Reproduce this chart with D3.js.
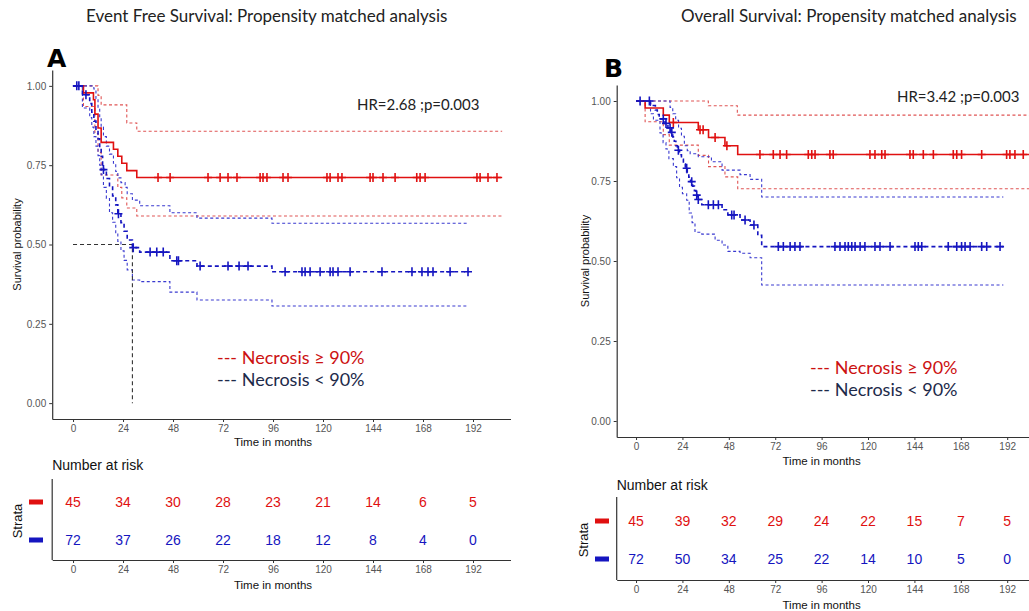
<!DOCTYPE html>
<html>
<head>
<meta charset="utf-8">
<script src="https://cdn.jsdelivr.net/npm/d3@7"></script>
<style>
  body { margin: 0; background: #fff; }
  svg { display: block; }
</style>
</head>
<body>
<svg id="fig" width="1029" height="611"></svg>
<script>
// ---------- data ----------
var timeTicks = [0, 24, 48, 72, 96, 120, 144, 168, 192];
var survTicks = [0, 0.25, 0.5, 0.75, 1];
var groupNames = ["Necrosis \u2265 90%", "Necrosis < 90%"];

// A: event free survival, necrosis >= 90%
var efsHighMain = [[0,1],[5,0.978],[9.8,0.956],[10.5,0.911],[12,0.867],[13.5,0.822],[19.4,0.8],[21.5,0.778],[23.4,0.756],[25.8,0.733],[30.6,0.711]];
var efsHighUpper = [[0,1],[12,0.97],[13.5,0.94],[25.8,0.883],[30.6,0.857]];
var efsHighLower = [[0,1],[5,0.935],[10.5,0.85],[12,0.79],[13.5,0.719],[21.5,0.68],[23.4,0.647],[25.8,0.615],[30.6,0.59]];
var efsHighCensor = [40.8,46.6,64.8,70.6,74.4,78.7,89.8,91.2,93.1,100.8,103.2,121.9,123.4,127.2,129.1,142.6,144,148.8,154.6,165,166.6,169,193.9,195.4,199.2,203.5];
var efsHighEnd = 206;

// A: event free survival, necrosis < 90%
var efsLowMain = [[0,1],[4.5,0.972],[8,0.944],[9,0.917],[10,0.889],[11,0.861],[12,0.833],[12.8,0.806],[13.5,0.778],[14.2,0.75],[14.6,0.736],[16,0.708],[17.5,0.681],[19,0.653],[20.5,0.625],[21.5,0.597],[23,0.569],[24.5,0.542],[26,0.514],[28.5,0.49],[32,0.476],[46.5,0.449],[59.5,0.432],[95.5,0.414]];
var efsLowUpper = [[0,1],[10,0.99],[11,0.96],[12,0.93],[12.8,0.9],[13.5,0.87],[14.6,0.84],[16,0.81],[17.5,0.785],[19.4,0.756],[20.5,0.73],[21.5,0.71],[23,0.695],[25,0.68],[26,0.66],[28.5,0.64],[32,0.622],[46.5,0.6],[59.5,0.583],[95.5,0.567]];
var efsLowLower = [[0,1],[4.5,0.93],[8,0.9],[9,0.87],[10,0.84],[11,0.81],[12,0.78],[12.8,0.75],[13.5,0.72],[14.6,0.68],[16,0.645],[17.5,0.6],[19,0.57],[20.5,0.535],[21.5,0.51],[23,0.48],[24.5,0.45],[26,0.42],[28.5,0.388],[32,0.383],[46.5,0.35],[59.5,0.325],[95.5,0.306]];
var efsLowCensor = [1.8,2.8,6.2,14.6,21.8,28.9,37,40.2,43.3,49.8,50.6,61,74.4,79.7,84,101.8,109.9,111.4,113.8,118.6,123.4,124.8,127.2,133,148.3,162.7,167.5,170.4,172.8,181,189.6];
var efsLowEnd = 190;
var efsMedian = 28.5;

// B: overall survival, necrosis >= 90%
var osHighMain = [[0,1],[4.7,0.978],[14.1,0.956],[17.2,0.933],[32.2,0.91],[37.5,0.886],[46,0.86],[52.6,0.833]];
var osHighUpper = [[0,1],[37.4,0.985],[52.4,0.956]];
var osHighLower = [[0,1],[4.7,0.935],[14.1,0.895],[17.2,0.862],[32.2,0.83],[37.5,0.795],[46,0.763],[52.6,0.726]];
var osHighCensor = [19.3,33.1,34.7,40.9,47,64.1,71,74.5,77.9,89.1,90.9,92.6,100.3,102,121,123.6,127.1,128.8,141.7,143.4,148.6,153.8,164.1,165.9,168.4,178.8,191.7,193.4,196,200.3];
var osHighEnd = 206;

// B: overall survival, necrosis < 90%
var osLowMain = [[0,1],[7.5,0.986],[10,0.972],[11,0.958],[12,0.944],[15,0.93],[16.5,0.916],[18,0.902],[19,0.888],[19.8,0.874],[20.6,0.86],[21.4,0.846],[22.5,0.832],[23.5,0.818],[24.5,0.804],[25.5,0.79],[26.5,0.776],[27.3,0.762],[28.2,0.748],[29.3,0.734],[30.2,0.72],[31,0.706],[31.8,0.692],[34,0.676],[44.5,0.66],[47.5,0.644],[53.8,0.628],[59,0.6125],[63,0.58],[65,0.545]];
var osLowUpper = [[0,1],[17.6,0.98],[19,0.96],[20.5,0.94],[22,0.915],[23.5,0.89],[25,0.86],[26.5,0.845],[28,0.835],[32.2,0.826],[39,0.81],[44.5,0.784],[53.8,0.77],[59,0.755],[65,0.70]];
var osLowLower = [[0,1],[7.5,0.96],[9,0.94],[12.4,0.9],[14,0.87],[15.5,0.85],[17,0.82],[19.3,0.795],[21,0.76],[22.5,0.73],[24,0.71],[26.2,0.69],[27.5,0.65],[29,0.62],[30.5,0.59],[34,0.584],[40.9,0.565],[44.5,0.55],[47.5,0.53],[53.8,0.524],[59,0.51],[65,0.425]];
var osLowCensor = [2.1,6.9,14.1,15.5,17.6,18.5,21.9,26.2,28.8,31.4,32.2,37.4,40,42.6,49.5,50.7,56.4,61,73.6,76.2,79.7,82.2,84.8,102.9,105.5,108.1,109.8,111.6,113.3,115.9,118.4,123.6,126.2,131.4,144.3,146,147.8,161.5,165.9,168.4,170.2,172.8,178.8,181.4,188.3];
var osLowEnd = 190;

// numbers at risk
var efsRiskHigh = [45, 34, 30, 28, 23, 21, 14, 6, 5];
var efsRiskLow = [72, 37, 26, 22, 18, 12, 8, 4, 0];
var osRiskHigh = [45, 39, 32, 29, 24, 22, 15, 7, 5];
var osRiskLow = [72, 50, 34, 25, 22, 14, 10, 5, 0];

// ---------- style ----------
var red = "#e01010", blue = "#1515c0";
var redCI = "#e05555", blueCI = "#3a3ad0";
var tickFont = "'Liberation Sans', Arial, sans-serif";
var noteFont = "Lato, 'Open Sans', sans-serif";

var svg = d3.select("#fig");
svg.append("rect").attr("width", 1029).attr("height", 611).attr("fill", "#fff");

var panels = [
  {
    letter: "A", letterX: 47, letterY: 67,
    title: "Event Free Survival: Propensity matched analysis", titleX: 86,
    hr: "HR=2.68 ;p=0.003", hrX: 357, hrY: 110,
    legendX: 217, legendY: 364,
    xRange: [52.2, 510.5], yRange: [419, 70],
    ylabX: 17, xlabY: 446,
    high: { main: efsHighMain, upper: efsHighUpper, lower: efsHighLower, censor: efsHighCensor, end: efsHighEnd, risk: efsRiskHigh },
    low: { main: efsLowMain, upper: efsLowUpper, lower: efsLowLower, censor: efsLowCensor, end: efsLowEnd, risk: efsRiskLow },
    median: efsMedian,
    tableTitleY: 470, tableTop: 479, tableAxisY: 560, rows: [502, 540],
    strataX: 17, dashX: 29
  },
  {
    letter: "B", letterX: 604, letterY: 77,
    title: "Overall Survival: Propensity matched analysis", titleX: 681,
    hr: "HR=3.42 ;p=0.003", hrX: 897, hrY: 102,
    legendX: 810, legendY: 374,
    xRange: [616.7, 1042], yRange: [437, 85],
    ylabX: 585, xlabY: 465,
    high: { main: osHighMain, upper: osHighUpper, lower: osHighLower, censor: osHighCensor, end: osHighEnd, risk: osRiskHigh },
    low: { main: osLowMain, upper: osLowUpper, lower: osLowLower, censor: osLowCensor, end: osLowEnd, risk: osRiskLow },
    median: null,
    tableTitleY: 490, tableTop: 497, tableAxisY: 580, rows: [521, 559],
    strataX: 583, dashX: 595
  }
];

function styleAxis(sel) {
  sel.select(".domain").attr("stroke", "#333").attr("stroke-width", 1.2);
  sel.selectAll(".tick line").attr("stroke", "#333");
  sel.selectAll(".tick text").attr("fill", "#555").style("font-family", tickFont).style("font-size", "10px");
}

function valueAt(curve, t) {
  var v = curve[0][1];
  curve.forEach(function(d) { if (d[0] <= t) v = d[1]; });
  return v;
}

function drawPanel(p) {
  var x = d3.scaleLinear().domain([-10, 210]).range(p.xRange);
  var y = d3.scaleLinear().domain([-0.05, 1.05]).range(p.yRange);
  var g = svg.append("g");

  var step = d3.line()
    .x(function(d) { return x(d[0]); })
    .y(function(d) { return y(d[1]); })
    .curve(d3.curveStepAfter);

  function withEnd(curve, end) {
    return curve.concat([[end, curve[curve.length - 1][1]]]);
  }

  // title & panel letter
  svg.append("text").attr("x", p.titleX).attr("y", 22)
    .style("font-family", noteFont).style("font-size", "17px").attr("fill", "#222").text(p.title);
  svg.append("text").attr("x", p.letterX).attr("y", p.letterY)
    .style("font-family", "'DejaVu Sans', sans-serif").style("font-weight", "900").style("font-size", "25px")
    .attr("fill", "#000").text(p.letter);

  // axes
  g.append("g").attr("transform", "translate(0," + p.yRange[0] + ")")
    .call(d3.axisBottom(x).tickValues(timeTicks).tickSize(3).tickSizeOuter(0).tickPadding(3))
    .call(styleAxis);
  g.append("g").attr("transform", "translate(" + p.xRange[0] + ",0)")
    .call(d3.axisLeft(y).tickValues(survTicks).tickFormat(d3.format(".2f")).tickSize(3).tickSizeOuter(0).tickPadding(3))
    .call(styleAxis);

  g.append("text").attr("x", (x(0) + x(192)) / 2).attr("y", p.xlabY).attr("text-anchor", "middle")
    .style("font-family", tickFont).style("font-size", "11.5px").attr("fill", "#111").text("Time in months");
  g.append("text").attr("transform", "translate(" + p.ylabX + "," + y(0.5) + ") rotate(-90)")
    .attr("text-anchor", "middle").attr("dy", "0.35em")
    .style("font-family", tickFont).style("font-size", "11px").attr("fill", "#111").text("Survival probability");

  // confidence bands as dashed step lines
  [[p.high, redCI], [p.low, blueCI]].forEach(function(pair) {
    var s = pair[0];
    ["upper", "lower"].forEach(function(k) {
      g.append("path").attr("d", step(withEnd(s[k], s.end)))
        .attr("fill", "none").attr("stroke", pair[1]).attr("stroke-width", 1.1)
        .attr("stroke-dasharray", "3,2.5");
    });
  });

  // median line
  if (p.median != null) {
    g.append("path")
      .attr("d", d3.line()([[x(0), y(0.5)], [x(p.median), y(0.5)], [x(p.median), y(0)]]))
      .attr("fill", "none").attr("stroke", "#333").attr("stroke-width", 1.1).attr("stroke-dasharray", "4,3");
  }

  // survival curves
  g.append("path").attr("d", step(withEnd(p.high.main, p.high.end)))
    .attr("fill", "none").attr("stroke", red).attr("stroke-width", 1.6);
  g.append("path").attr("d", step(withEnd(p.low.main, p.low.end)))
    .attr("fill", "none").attr("stroke", blue).attr("stroke-width", 1.6).attr("stroke-dasharray", "4,3");

  // censor marks
  [[p.high, red], [p.low, blue]].forEach(function(pair) {
    var s = pair[0];
    g.selectAll(null).data(s.censor).enter().append("path")
      .attr("transform", function(t) { return "translate(" + x(t) + "," + y(valueAt(s.main, t)) + ")"; })
      .attr("d", "M-4,0H4M0,-4.5V4.5")
      .attr("stroke", pair[1]).attr("stroke-width", 1.6).attr("fill", "none");
  });

  // HR annotation and legend
  g.append("text").attr("x", p.hrX).attr("y", p.hrY)
    .style("font-family", noteFont).style("font-size", "15px").attr("fill", "#222").text(p.hr);
  var leg = g.append("g").attr("transform", "translate(" + p.legendX + "," + p.legendY + ")");
  leg.append("text").attr("y", 0).style("font-family", noteFont).style("font-size", "18px")
    .attr("fill", "#cc1111").text("--- " + groupNames[0]);
  leg.append("text").attr("y", 22).style("font-family", noteFont).style("font-size", "18px")
    .attr("fill", "#1d2a4a").text("--- " + groupNames[1]);

  // risk table
  var t = svg.append("g");
  var rowY = d3.scalePoint().domain(groupNames).range(p.rows);
  t.append("text").attr("x", p.xRange[0]).attr("y", p.tableTitleY)
    .style("font-family", tickFont).style("font-size", "14px").attr("fill", "#111").text("Number at risk");
  t.append("g").attr("transform", "translate(0," + p.tableAxisY + ")")
    .call(d3.axisBottom(x).tickValues(timeTicks).tickSize(3).tickSizeOuter(0).tickPadding(3))
    .call(styleAxis);
  t.append("line").attr("x1", p.xRange[0]).attr("x2", p.xRange[0])
    .attr("y1", p.tableTop).attr("y2", p.tableAxisY).attr("stroke", "#333").attr("stroke-width", 1.2);
  t.append("text").attr("x", (x(0) + x(192)) / 2).attr("y", p.tableAxisY + 28.5).attr("text-anchor", "middle")
    .style("font-family", tickFont).style("font-size", "11.5px").attr("fill", "#111").text("Time in months");
  t.append("text").attr("transform", "translate(" + p.strataX + "," + ((p.rows[0] + p.rows[1]) / 2) + ") rotate(-90)")
    .attr("text-anchor", "middle").attr("dy", "0.35em")
    .style("font-family", tickFont).style("font-size", "13px").attr("fill", "#111").text("Strata");

  [[p.high.risk, groupNames[0], red], [p.low.risk, groupNames[1], blue]].forEach(function(r) {
    t.append("rect").attr("x", p.dashX).attr("y", rowY(r[1]) - 2.5).attr("width", 14).attr("height", 5).attr("fill", r[2]);
    t.selectAll(null).data(r[0]).enter().append("text")
      .attr("x", function(d, i) { return x(timeTicks[i]); })
      .attr("y", rowY(r[1])).attr("dy", "0.36em").attr("text-anchor", "middle")
      .style("font-family", tickFont).style("font-size", "14px").attr("fill", r[2])
      .text(function(d) { return d; });
  });
}

panels.forEach(drawPanel);
</script>
</body>
</html>
